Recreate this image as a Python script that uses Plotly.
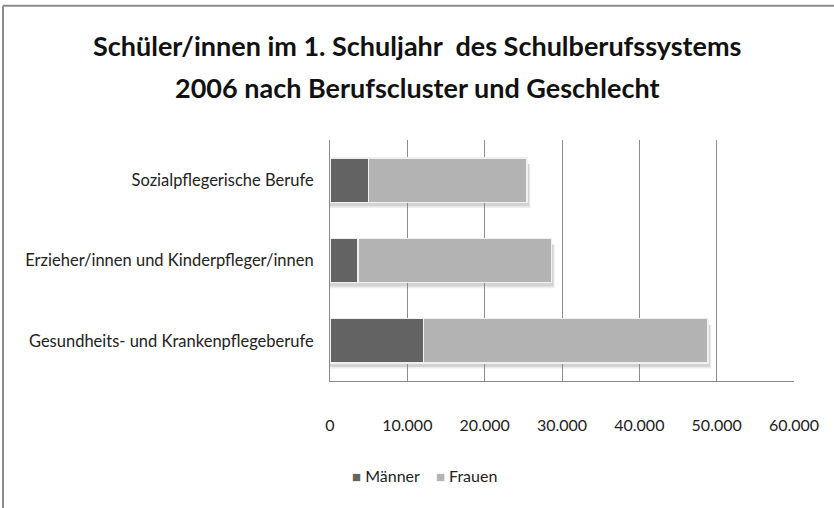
import plotly.graph_objects as go

categories = ["Gesundheits- und Krankenpflegeberufe",
              "Erzieher/innen und Kinderpfleger/innen",
              "Sozialpflegerische Berufe"]
maenner = [12100, 3600, 5000]
frauen = [36800, 25050, 20500]
x_ticks = [0, 10000, 20000, 30000, 40000, 50000, 60000]
title_lines = ["Schüler/innen im 1. Schuljahr  des Schulberufssystems",
               "2006 nach Berufscluster und Geschlecht"]
series_names = ["Männer", "Frauen"]
series_colors = ["#636363", "#b3b3b3"]

FONT = "Lato"
fig = go.Figure()
for name, vals, col in zip(series_names, [maenner, frauen], series_colors):
    fig.add_trace(go.Bar(y=categories, x=vals, name=name, orientation="h",
                         marker=dict(color=col, line=dict(color="#f0f0f0", width=1.5))))

# soft shadows under the bars
for i, (m, f) in enumerate(zip(maenner, frauen)):
    tot = m + f
    for k, op in enumerate([0.25, 0.15]):
        fig.add_shape(type="rect", xref="x", yref="y", layer="between",
                      x0=0, x1=tot + 250 + 150 * k,
                      y0=i - 0.275 - 0.05 - 0.02 * k, y1=i + 0.2,
                      fillcolor="#888888", opacity=op, line_width=0)

fig.update_layout(
    width=834, height=508,
    margin=dict(l=330, r=40, t=140, b=127),
    paper_bgcolor="white", plot_bgcolor="white",
    barmode="stack", bargap=0.45,
    separators=",.",
    font=dict(family=FONT, size=16, color="#222222"),
    showlegend=False,
    xaxis=dict(range=[0, 60000], tickvals=x_ticks, tickformat=",d",
               showgrid=True, gridcolor="#8c8c8c", gridwidth=1,
               showline=True, linecolor="#8c8c8c", linewidth=1,
               zeroline=False, ticks="", ticklabelstandoff=30,
               tickfont=dict(size=16, family=FONT)),
    yaxis=dict(showline=True, linecolor="#8c8c8c", linewidth=1, ticks="",
               ticklabelstandoff=12, tickfont=dict(size=16.5, family=FONT)),
)

for txt, py in zip(title_lines, [45, 87]):
    fig.add_annotation(text="<b>" + txt + "</b>", xref="paper", yref="paper",
                       x=(417 - 330) / 464, y=(381 - py) / 241.5,
                       xanchor="center", yanchor="middle", showarrow=False,
                       font=dict(size=27, family=FONT, color="#111111"))

# legend (drawn as text below the axis)
legend_text = "    ".join(
    "<span style='color:%s;font-size:15px'>■</span> %s" % (c, n)
    for n, c in zip(series_names, series_colors))
fig.add_annotation(text=legend_text, xref="paper", yref="paper",
                   x=(424 - 330) / 464, y=(381 - 476) / 241.5,
                   xanchor="center", yanchor="middle", showarrow=False,
                   font=dict(size=16, family=FONT, color="#222222"))

# chart frame (top and left edge)
fig.add_shape(type="line", xref="paper", yref="paper",
              x0=(3 - 330) / 464, x1=(834 - 330) / 464,
              y0=(381 - 5) / 241.5, y1=(381 - 5) / 241.5,
              line=dict(color="#8c8c8c", width=2))
fig.add_shape(type="line", xref="paper", yref="paper",
              x0=(3 - 330) / 464, x1=(3 - 330) / 464,
              y0=(381 - 5) / 241.5, y1=(381 - 510) / 241.5,
              line=dict(color="#8c8c8c", width=2))

fig.write_html("out.html", config={"displayModeBar": False},
               post_script="document.body.style.margin='0';")
